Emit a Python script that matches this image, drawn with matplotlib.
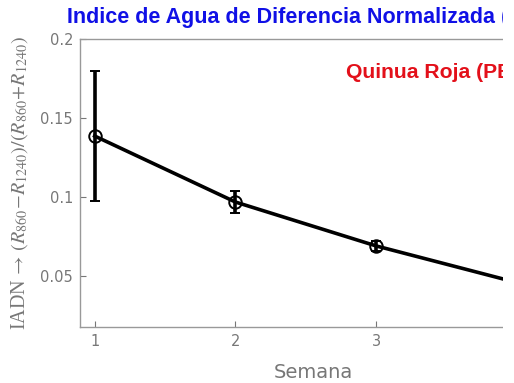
import matplotlib.pyplot as plt
from matplotlib.patches import Rectangle

plt.rcParams['mathtext.fontset'] = 'stix'

semana = [1, 2, 3, 4]
iadn = [0.1386, 0.0968, 0.0690, 0.0458]
err = [0.041, 0.0068, 0.0032, 0.003]

gray = '#777777'

fig = plt.figure(figsize=(5.14, 3.83), dpi=100)
ax = fig.add_axes([80 / 514, 1 - 327 / 383, (503 - 80) / 514, (327 - 39) / 383])

ax.errorbar(semana, iadn, yerr=err, color='black', lw=2.6, marker='o', ms=9,
            mfc='none', mec='black', mew=1.4, elinewidth=2.6, capsize=3.5,
            capthick=2.6)

ax.set_xlim(0.896, 3.90)
ax.set_ylim(0.0177, 0.2)
ax.set_xticks([1, 2, 3])
ax.set_yticks([0.05, 0.1, 0.15, 0.2])
ax.set_yticklabels(['0.05', '0.1', '0.15', '0.2'])

for s in ['left', 'bottom', 'top']:
    ax.spines[s].set_color('#999999')
    ax.spines[s].set_linewidth(1.0)
ax.spines['right'].set_visible(False)
ax.tick_params(direction='in', length=4, width=0.8, color=gray,
               labelcolor=gray, labelsize=10.5, pad=5)

ax.set_xlabel('Semana', fontsize=14, color=gray)
ax.xaxis.set_label_coords((313 - 80) / 423, -0.125)
ax.set_ylabel(r'IADN$\,\rightarrow\,(R_{860}\!-\!R_{1240})/(R_{860}\!+\!R_{1240})$',
              fontsize=14.5, color=gray, family='Liberation Serif')
ax.yaxis.set_label_coords(-0.118, 0.5)

fig.text(67 / 514, 1 - 18 / 383, 'Indice de Agua de Diferencia Normalizada (IADN)',
         color='#1010e6', fontsize=15.5, fontweight='bold', va='center', ha='left',
         family='Liberation Sans')
ax.text((346 - 80) / 423, 1 - (73 - 39) / 288, 'Quinua Roja (PB)', color='#e3101a',
        fontsize=15.2, fontweight='bold', va='center', ha='left', transform=ax.transAxes,
        family='Liberation Sans', clip_on=False)

# the panel is cut at the right border, leaving a white strip
fig.add_artist(Rectangle((503 / 514, 0), 11 / 514, 1, transform=fig.transFigure,
                         facecolor='white', edgecolor='none', zorder=20))

fig.savefig('out.png', dpi=100)
